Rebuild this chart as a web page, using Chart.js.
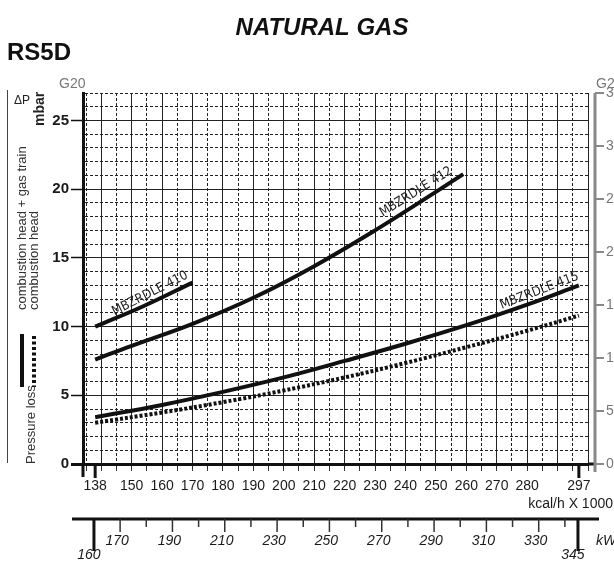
<!DOCTYPE html>
<html>
<head>
<meta charset="utf-8">
<script src="https://cdn.jsdelivr.net/npm/chart.js@4.4.0/dist/chart.umd.min.js"></script>
<style>
  html, body { margin: 0; padding: 0; background: #fff; overflow: hidden; }
  #wrap { width: 614px; height: 562px; overflow: hidden; }
  canvas { display: block; }
</style>
</head>
<body>
<div id="wrap"><canvas id="gasChart" width="630" height="562"></canvas></div>
<script>
// output in kcal/h x 1000, pressure loss in mbar (G20)
const kcal410 = [138, 154, 170];
const dp410 = [10.0, 11.5, 13.2];
const kcal412 = [138, 150, 170, 190, 210, 230, 250, 259];
const dp412 = [7.6, 8.6, 10.2, 12.1, 14.4, 17.0, 19.8, 21.1];
const kcal415 = [138, 160, 180, 200, 220, 240, 260, 280, 297];
const dp415 = [3.4, 4.3, 5.25, 6.3, 7.5, 8.75, 10.1, 11.6, 13.0];
const kcalHead = [138, 160, 180, 200, 220, 240, 260, 280, 297];
const dpHead = [3.0, 3.75, 4.5, 5.35, 6.3, 7.35, 8.5, 9.7, 10.8];

const kcalLabels = [138, 150, 160, 170, 180, 190, 200, 210, 220, 230, 240, 250, 260, 270, 280, 297];
const kcalMarks = [138, 297];
const kwLabels = [170, 190, 210, 230, 250, 270, 290, 310, 330];
const kwMarks = [160, 345];
const g25Ticks = [0, 5, 10, 15, 20, 25, 30, 35];

const KCAL_PER_KW = 0.86;
const FONT = "'Liberation Sans', Arial, sans-serif";
const NARROW = "'Liberation Sans Narrow', 'DejaVu Sans Condensed', sans-serif";

function points(xs, ys) {
    return xs.map((v, i) => ({x: v, y: ys[i]}));
}

function gridValues() {
    const out = [];
    for (let v = 135; v <= 300; v += 5) out.push(v);
    return out.concat(kcalMarks).sort((a, b) => a - b);
}

function kwValues() {
    const out = [];
    for (let v = 160; v <= 340; v += 10) out.push(v);
    out.push(345);
    return out;
}

const curveLabels = [
    {text: 'MBZRDLE 410', x: 156, y: 12.4, angle: -27},
    {text: 'MBZRDLE 412', x: 243.5, y: 19.8, angle: -32},
    {text: 'MBZRDLE 415', x: 284, y: 12.6, angle: -21}
];

function line(ctx, x1, y1, x2, y2, w, color) {
    ctx.beginPath();
    ctx.lineWidth = w;
    ctx.strokeStyle = color;
    ctx.moveTo(x1, y1);
    ctx.lineTo(x2, y2);
    ctx.stroke();
}

function vText(ctx, text, x, y, font, color) {
    ctx.save();
    ctx.translate(x, y);
    ctx.rotate(-Math.PI / 2);
    ctx.font = font;
    ctx.fillStyle = color;
    ctx.textAlign = 'left';
    ctx.textBaseline = 'middle';
    ctx.fillText(text, 0, 0);
    ctx.restore();
}

const extras = {
    id: 'extras',
    afterDraw(chart) {
        const {ctx, chartArea: a} = chart;
        const {x, y2, kw} = chart.scales;
        ctx.save();

        // headings
        ctx.fillStyle = '#111';
        ctx.textBaseline = 'alphabetic';
        ctx.font = 'italic bold 24px ' + FONT;
        ctx.textAlign = 'center';
        ctx.fillText('NATURAL GAS', 322, 35);
        ctx.textAlign = 'left';
        ctx.font = 'bold 24px ' + FONT;
        ctx.fillText('RS5D', 7, 60);

        ctx.font = '14px ' + FONT;
        ctx.fillStyle = '#777';
        ctx.fillText('G20', 59, 88);
        ctx.fillText('G25', 596, 88);

        // left legend
        line(ctx, 7.5, 90, 7.5, 463, 1, '#444');
        ctx.fillStyle = '#222';
        ctx.font = '12px ' + FONT;
        ctx.fillText('\u0394P', 14, 104);
        vText(ctx, 'mbar', 40, 126, 'bold 14px ' + FONT, '#222');
        vText(ctx, 'combustion head + gas train', 22, 310, '13px ' + FONT, '#333');
        vText(ctx, 'combustion head', 34, 310, '13px ' + FONT, '#333');
        vText(ctx, 'Pressure loss', 31, 464, '13px ' + FONT, '#333');
        line(ctx, 22, 334, 22, 387, 4, '#111');
        ctx.setLineDash([3, 2.5]);
        line(ctx, 34, 336, 34, 387, 4, '#111');
        ctx.setLineDash([]);

        // axis extensions
        line(ctx, a.left, a.bottom, a.left, a.bottom + 13, 3, '#111');
        line(ctx, a.right, a.bottom, 596, a.bottom, 3, '#111');

        // G25 axis
        const gx = 595;
        line(ctx, gx, a.top, gx, a.bottom + 8, 3, '#888');
        g25Ticks.forEach(v => {
            const py = y2.getPixelForValue(v);
            line(ctx, gx, py, gx + 9, py, 2, '#888');
        });

        // thick marks at the range ends
        kcalMarks.forEach(v => {
            const px = x.getPixelForValue(v);
            line(ctx, px, a.bottom, px, a.bottom + 14, 3, '#111');
        });

        ctx.fillStyle = '#1a1a1a';
        ctx.font = '14px ' + FONT;
        ctx.textAlign = 'right';
        ctx.textBaseline = 'middle';
        ctx.fillText('kcal/h X 1000', 613, 504);

        // kW axis
        const ky = kw.top;
        line(ctx, 72, ky, 599, ky, 3, '#111');
        kwValues().forEach(v => {
            const px = kw.getPixelForValue(v);
            if (kwMarks.includes(v)) {
                line(ctx, px, ky, px, ky + 32, 3, '#111');
            } else {
                const len = kwLabels.includes(v) ? 13 : 8;
                line(ctx, px, ky, px, ky + len, 1.5, '#333');
            }
        });
        ctx.font = 'italic 14px ' + FONT;
        ctx.textAlign = 'center';
        kwMarks.forEach(v => {
            ctx.fillText(String(v), kw.getPixelForValue(v) - 5, 555);
        });
        ctx.textAlign = 'left';
        ctx.fillText('kW', 596, 541);

        // curve names
        ctx.font = '13px ' + NARROW;
        ctx.fillStyle = '#222';
        ctx.textAlign = 'center';
        curveLabels.forEach(l => {
            ctx.save();
            ctx.translate(x.getPixelForValue(l.x), chart.scales.y.getPixelForValue(l.y));
            ctx.rotate(l.angle * Math.PI / 180);
            ctx.fillText(l.text, 0, 0);
            ctx.restore();
        });

        ctx.restore();
    }
};

const solid = {borderColor: '#111', borderWidth: 4, pointRadius: 0, tension: 0.4, fill: false};

new Chart(document.getElementById('gasChart'), {
    type: 'line',
    data: {
        datasets: [
            Object.assign({label: 'MBZRDLE 410', data: points(kcal410, dp410)}, solid),
            Object.assign({label: 'MBZRDLE 412', data: points(kcal412, dp412)}, solid),
            Object.assign({label: 'MBZRDLE 415', data: points(kcal415, dp415)}, solid),
            Object.assign({label: 'combustion head', data: points(kcalHead, dpHead), borderDash: [3, 2]}, solid)
        ]
    },
    options: {
        responsive: false,
        animation: false,
        layout: {padding: {top: 93, left: 0, right: 0, bottom: 0}},
        plugins: {
            legend: {display: false},
            tooltip: {enabled: false}
        },
        scales: {
            x: {
                type: 'linear',
                position: 'bottom',
                weight: 0,
                min: 134,
                max: 300,
                afterBuildTicks: s => { s.ticks = gridValues().map(v => ({value: v})); },
                afterFit: s => { s.height = 55; },
                ticks: {
                    autoSkip: false,
                    maxRotation: 0,
                    padding: 7,
                    color: '#1a1a1a',
                    font: {size: 14, family: FONT},
                    callback: v => kcalLabels.includes(v) ? String(v) : ''
                },
                grid: {
                    color: c => (c.tick && kcalMarks.includes(c.tick.value)) ? 'rgba(0,0,0,0)' : '#222',
                    tickColor: c => (c.tick && kcalMarks.includes(c.tick.value)) ? 'rgba(0,0,0,0)' : '#333',
                    lineWidth: 1,
                    tickLength: 7
                },
                border: {
                    color: '#111',
                    width: 3,
                    dash: c => (c.tick && c.tick.value % 10 !== 0) ? [3, 2] : []
                }
            },
            kw: {
                type: 'linear',
                position: 'bottom',
                weight: 1,
                min: 134 / KCAL_PER_KW,
                max: 300 / KCAL_PER_KW,
                afterBuildTicks: s => { s.ticks = kwValues().map(v => ({value: v})); },
                afterFit: s => { s.height = 43; },
                ticks: {
                    autoSkip: false,
                    maxRotation: 0,
                    padding: 14,
                    labelOffset: -3,
                    color: '#1a1a1a',
                    font: {size: 14, style: 'italic', family: FONT},
                    callback: v => kwLabels.includes(v) ? String(v) : ''
                },
                grid: {display: false, drawTicks: false},
                border: {display: false}
            },
            y: {
                type: 'linear',
                position: 'left',
                min: 0,
                max: 27,
                afterFit: s => { s.width = 83; },
                ticks: {
                    stepSize: 1,
                    autoSkip: false,
                    padding: 2,
                    color: '#1a1a1a',
                    font: {size: 15, weight: 'bold', family: FONT},
                    callback: v => v % 5 === 0 ? String(v) : ''
                },
                grid: {
                    color: '#222',
                    lineWidth: 1,
                    tickLength: 12,
                    tickColor: c => (c.tick && c.tick.value % 5 === 0) ? '#111' : 'rgba(0,0,0,0)',
                    tickWidth: c => (c.tick && c.tick.value === 0) ? 3 : 1.5
                },
                border: {
                    color: '#111',
                    width: 3,
                    dash: c => (c.tick && c.tick.value % 5 !== 0) ? [3, 2] : []
                }
            },
            y2: {
                type: 'linear',
                position: 'right',
                min: 0,
                max: 35,
                afterFit: s => { s.width = 42; },
                ticks: {
                    stepSize: 5,
                    padding: 18,
                    color: '#777',
                    font: {size: 14, family: FONT}
                },
                grid: {display: false, drawTicks: false},
                border: {display: false}
            }
        }
    },
    plugins: [extras]
});
</script>
</body>
</html>
